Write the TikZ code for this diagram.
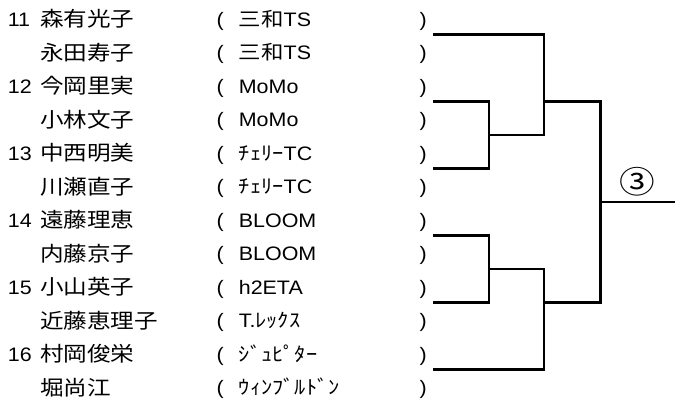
\documentclass[tikz,border=0pt]{standalone}
\usepackage{fontspec}
\setmainfont{Liberation Sans}[FakeStretch=1.1]
\newfontfamily\jp{Noto Sans CJK JP}[FakeStretch=1.15]
\tikzstyle{seed} = [anchor=base west, inner sep=0pt, font=\fontsize{19.5}{24}\selectfont]
\tikzstyle{player} = [anchor=base west, inner sep=0pt, font=\jp\fontsize{20.5}{24}\selectfont]
\tikzstyle{club} = [anchor=base west, inner sep=0pt, font=\fontsize{19.5}{24}\selectfont]
\tikzstyle{bracket} = [line width=2.8pt]
\newcommand{\paren}[1]{\makebox[210pt][l]{(\hspace{15pt}#1\hfill)}}

\begin{document}
\begin{tikzpicture}[x=1pt, y=-1pt]
		\useasboundingbox (0,0) rectangle (675,403);
		% seeds
		\node (s11) [seed] at (7.7,26.5) {11};
		\node (s12) [seed] at (7.7,93.5) {12};
		\node (s13) [seed] at (7.7,160.5) {13};
		\node (s14) [seed] at (7.7,227.5) {14};
		\node (s15) [seed] at (7.7,294.5) {15};
		\node (s16) [seed] at (7.7,361.5) {16};
		% players
		\node (p11a) [player] at (40,27) {森有光子};
		\node (p11b) [player] at (40,60.5) {永田寿子};
		\node (p12a) [player] at (40,94) {今岡里実};
		\node (p12b) [player] at (40,127.5) {小林文子};
		\node (p13a) [player] at (40,161) {中西明美};
		\node (p13b) [player] at (40,194.5) {川瀬直子};
		\node (p14a) [player] at (40,228) {遠藤理恵};
		\node (p14b) [player] at (40,261.5) {内藤京子};
		\node (p15a) [player] at (40,295) {小山英子};
		\node (p15b) [player] at (40,328.5) {近藤恵理子};
		\node (p16a) [player] at (40,362) {村岡俊栄};
		\node (p16b) [player] at (40,395.5) {堀尚江};
		% clubs
		\node (c11a) [club] at (216.5,26.5) {\paren{{\jp 三和}TS}};
		\node (c11b) [club] at (216.5,60) {\paren{{\jp 三和}TS}};
		\node (c12a) [club] at (216.5,93.5) {\paren{MoMo}};
		\node (c12b) [club] at (216.5,127) {\paren{MoMo}};
		\node (c13a) [club] at (216.5,160.5) {\paren{{\jp ﾁｪﾘｰ}TC}};
		\node (c13b) [club] at (216.5,194) {\paren{{\jp ﾁｪﾘｰ}TC}};
		\node (c14a) [club] at (216.5,227.5) {\paren{BLOOM}};
		\node (c14b) [club] at (216.5,261) {\paren{BLOOM}};
		\node (c15a) [club] at (216.5,294.5) {\paren{h2ETA}};
		\node (c15b) [club] at (216.5,328) {\paren{T.{\jp ﾚｯｸｽ}}};
		\node (c16a) [club] at (216.5,361.5) {\paren{{\jp ｼﾞｭﾋﾟﾀｰ}}};
		\node (c16b) [club] at (216.5,395) {\paren{{\jp ｳｨﾝﾌﾞﾙﾄﾞﾝ}}};
		% bracket points
		\coordinate (e11) at (433,34.5);
		\coordinate (e12) at (433,101.5);
		\coordinate (e13) at (433,168.5);
		\coordinate (e14) at (433,235.5);
		\coordinate (e15) at (433,302.5);
		\coordinate (e16) at (433,369.5);
		\coordinate (r1213) at (489,135);
		\coordinate (r1415) at (489,269);
		\coordinate (semi1) at (544,101.5);
		\coordinate (semi2) at (544,302.5);
		\coordinate (fin) at (600.5,202);
		\coordinate (win) at (675,202);
		\draw [bracket] (e12) -| (r1213) |- (e13);
		\draw [bracket] (e14) -| (r1415) |- (e15);
		\draw [bracket] (e11) -| (semi1 |- r1213) -- (r1213);
		\draw [bracket] (r1415) -| (semi2) |- (e16);
		\draw [bracket] (semi1) -| (fin) |- (semi2);
		\draw [bracket] (fin) -- (win) node (block) [midway, above=4pt, inner sep=0pt, font=\jp\fontsize{31}{34}\selectfont] {③};
\end{tikzpicture}
\end{document}
